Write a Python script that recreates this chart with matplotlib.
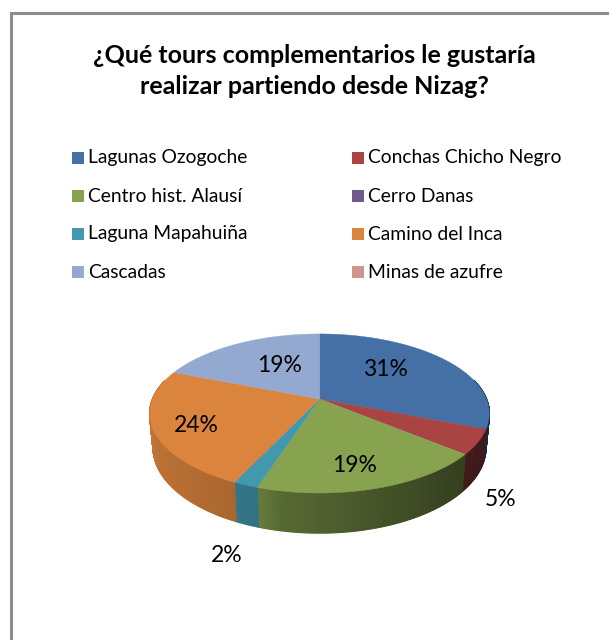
import numpy as np
import matplotlib
matplotlib.use("Agg")
import matplotlib.pyplot as plt
from matplotlib.patches import Rectangle

plt.rcParams['font.family'] = ['Lato', 'DejaVu Sans']

# data
labels = ["Lagunas Ozogoche", "Conchas Chicho Negro", "Centro hist. Alausí", "Cerro Danas",
          "Laguna Mapahuiña", "Camino del Inca", "Cascadas", "Minas de azufre"]
values = [31, 5, 19, 0, 2, 24, 19, 0]
colors = ["#4470A5", "#A94442", "#87A34F", "#71588F", "#4198AF", "#DB843D", "#93A9CF", "#D19392"]
title = "¿Qué tours complementarios le gustaría\nrealizar partiendo desde Nizag?"

# pixel axes, y going down like the picture
fig = plt.figure(figsize=(6.09, 6.40), dpi=100)
ax = fig.add_axes([0, 0, 1, 1])
ax.set_xlim(0, 609)
ax.set_ylim(640, 0)
ax.axis("off")

# only top and left of the frame are in the crop
ax.plot([10.5, 10.5, 609], [640, 12.5, 12.5], color="#8c8c8c", lw=2.2, solid_joinstyle="miter")

ax.text(314.5, 71, title, ha="center", va="center", fontsize=18, fontweight="bold", linespacing=1.38)

# legend, two columns
leg_x = [72, 351.5]
leg_y = [158, 196, 234, 272]
for i, name in enumerate(labels):
    x = leg_x[i % 2]
    y = leg_y[i // 2]
    ax.add_patch(Rectangle((x, y - 6), 12, 12, fc=colors[i], ec="none"))
    ax.text(x + 16, y + 5.5, name, va="baseline", fontsize=13.9)

# perspective pie
cx, cy = 319.5, 399
k = 0.182
a = 76.9
b = 167
depth = 32.7
shrink = 0.98


def project(theta, r=1.0):
    u = r * np.sin(theta)
    v = -r * np.cos(theta)
    w = 1 - k * v
    return cx + b * u / w, cy + a * v / w, depth / w


edges = np.cumsum([0] + values) / sum(values) * 2 * np.pi

# side wall first, top surface goes over it
for i in range(len(values)):
    if values[i] == 0:
        continue
    th = np.linspace(edges[i], edges[i + 1], max(values[i] * 6, 8))
    for t0, t1 in zip(th[:-1], th[1:]):
        if np.cos((t0 + t1) / 2) > 0.25:
            continue
        x0, y0, d0 = project(t0)
        x1, y1, d1 = project(t1)
        u = np.sin((t0 + t1) / 2)
        shade = np.interp(u, [-1, -0.3, -0.2, 0.7, 1], [0.88, 0.75, 0.65, 0.4, 0.36])
        c = np.array(matplotlib.colors.to_rgb(colors[i])) * shade
        xb0 = cx + (x0 - cx) * shrink
        xb1 = cx + (x1 - cx) * shrink
        ax.fill([x0, x1, xb1, xb0], [y0, y1, y1 + d1, y0 + d0], color=c, lw=1.0, joinstyle="round", zorder=2)

for i in range(len(values)):
    if values[i] == 0:
        continue
    th = np.linspace(edges[i], edges[i + 1], max(values[i] * 3, 6))
    x, y, _ = project(th)
    ax.fill(np.r_[cx, x], np.r_[cy, y], color=colors[i], lw=0.3, zorder=3)

# percent labels, zero slices have none
label_pos = {0: (385, 370), 1: (501, 500), 2: (355, 465), 4: (227, 555), 5: (196, 425), 6: (280, 365)}
for i, pos in label_pos.items():
    ax.text(pos[0], pos[1], f"{values[i]}%", ha="center", va="center", fontsize=16.5, zorder=4)

fig.savefig("out.png", dpi=100)
